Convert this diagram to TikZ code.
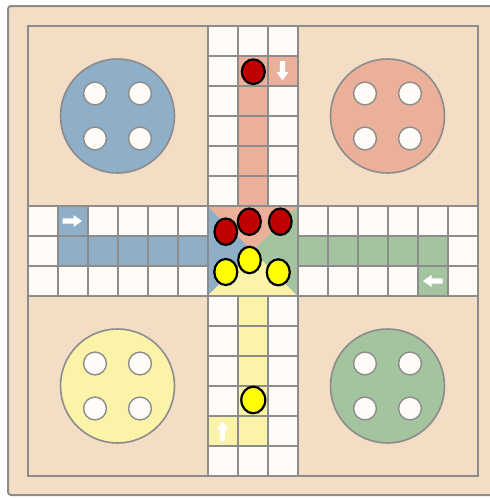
\documentclass[tikz,border=0pt]{standalone}
\definecolor{board}{RGB}{243,221,197}
\definecolor{bl}{RGB}{143,175,200}
\definecolor{rd}{RGB}{235,176,154}
\definecolor{gr}{RGB}{163,196,158}
\definecolor{yl}{RGB}{250,243,168}
\definecolor{cellw}{RGB}{255,252,248}
\definecolor{ln}{RGB}{140,140,140}
\definecolor{piecered}{RGB}{192,0,0}
\definecolor{pieceyel}{RGB}{255,255,0}
\begin{document}
\begin{tikzpicture}[x=1pt,y=-1pt,
  gridline/.style={ln, line width=2pt},
  homedisc/.style={draw=ln, line width=1.6pt},
  hole/.style={fill=cellw, draw=ln, line width=1.4pt},
  piece/.style={draw=black, line width=2.2pt},
  wa/.pic={\fill[white] (-10,-2.6) -- (1,-2.6) -- (1,-6) -- (9.5,0) -- (1,6) -- (1,2.6) -- (-10,2.6) -- cycle;}]
\useasboundingbox (0,0) rectangle (490,499);
\fill[white] (0,0) rectangle (490,499);
\draw[ln, line width=2pt, fill=board, rounded corners=3pt] (8,6) rectangle (500,495);
\begin{scope}[xshift=27.5pt, yshift=-26pt, x=30pt, y=-30pt]
  % white arm cells
  \fill[cellw] (6,0) rectangle (9,6);
  \fill[cellw] (0,6) rectangle (6,9);
  \fill[cellw] (9,6) rectangle (15,9);
  \fill[cellw] (6,9) rectangle (9,15);
  % coloured cells
  \fill[rd] (7,1) rectangle (8,6);
  \fill[rd] (8,1) rectangle (9,2);
  \fill[bl] (1,7) rectangle (6,8);
  \fill[bl] (1,6) rectangle (2,7);
  \fill[gr] (9,7) rectangle (14,8);
  \fill[gr] (13,8) rectangle (14,9);
  \fill[yl] (7,9) rectangle (8,14);
  \fill[yl] (6,13) rectangle (7,14);
  % centre
  \fill[rd] (6,6) -- (9,6) -- (7.5,7.5) -- cycle;
  \fill[bl] (6,6) -- (6,9) -- (7.5,7.5) -- cycle;
  \fill[gr] (9,6) -- (9,9) -- (7.5,7.5) -- cycle;
  \fill[yl] (6,9) -- (9,9) -- (7.5,7.5) -- cycle;
  % grid lines
  \foreach \i in {6,...,9} {
    \draw[gridline] (\i,0) -- (\i,6);
    \draw[gridline] (\i,9) -- (\i,15);
    \draw[gridline] (0,\i) -- (6,\i);
    \draw[gridline] (9,\i) -- (15,\i);
  }
  \foreach \i in {0,...,6} {
    \draw[gridline] (6,\i) -- (9,\i);
    \draw[gridline] (\i,6) -- (\i,9);
  }
  \foreach \i in {9,...,15} {
    \draw[gridline] (6,\i) -- (9,\i);
    \draw[gridline] (\i,6) -- (\i,9);
  }
  \draw[gridline] (0,0) rectangle (15,15);
  % home bases
  \foreach \cx/\cy/\col in {3/3/bl, 12/3/rd, 12/12/gr, 3/12/yl} {
    \fill[\col] (\cx,\cy) circle[radius=1.9];
    \draw[homedisc] (\cx,\cy) circle[radius=1.9];
    \foreach \dx in {-0.75,0.75} \foreach \dy in {-0.75,0.75}
      \draw[hole] (\cx+\dx,\cy+\dy) circle[radius=0.38];
  }
\end{scope}
% start arrows
\pic at (72.5,221) {wa};
\pic[rotate=-90] at (282.5,71) {wa};
\pic[rotate=180] at (432.5,281) {wa};
\pic[rotate=90] at (222.5,431) {wa};
% pieces
\draw[piece, fill=piecered] (253.3,71.7) ellipse[x radius=11.5, y radius=12.3];
\draw[piece, fill=piecered] (249.3,221.7) ellipse[x radius=11.5, y radius=13.2];
\draw[piece, fill=piecered] (280.3,221.7) ellipse[x radius=11.3, y radius=13.2];
\draw[piece, fill=piecered] (225.8,231.7) ellipse[x radius=11.3, y radius=13.2];
\draw[piece, fill=pieceyel] (249.5,260) ellipse[x radius=11.3, y radius=13.2];
\draw[piece, fill=pieceyel] (225.8,272) ellipse[x radius=11.5, y radius=13];
\draw[piece, fill=pieceyel] (278.3,272.3) ellipse[x radius=11.5, y radius=13];
\draw[piece, fill=pieceyel] (253.3,400) ellipse[x radius=12, y radius=13.3];
\end{tikzpicture}
\end{document}
